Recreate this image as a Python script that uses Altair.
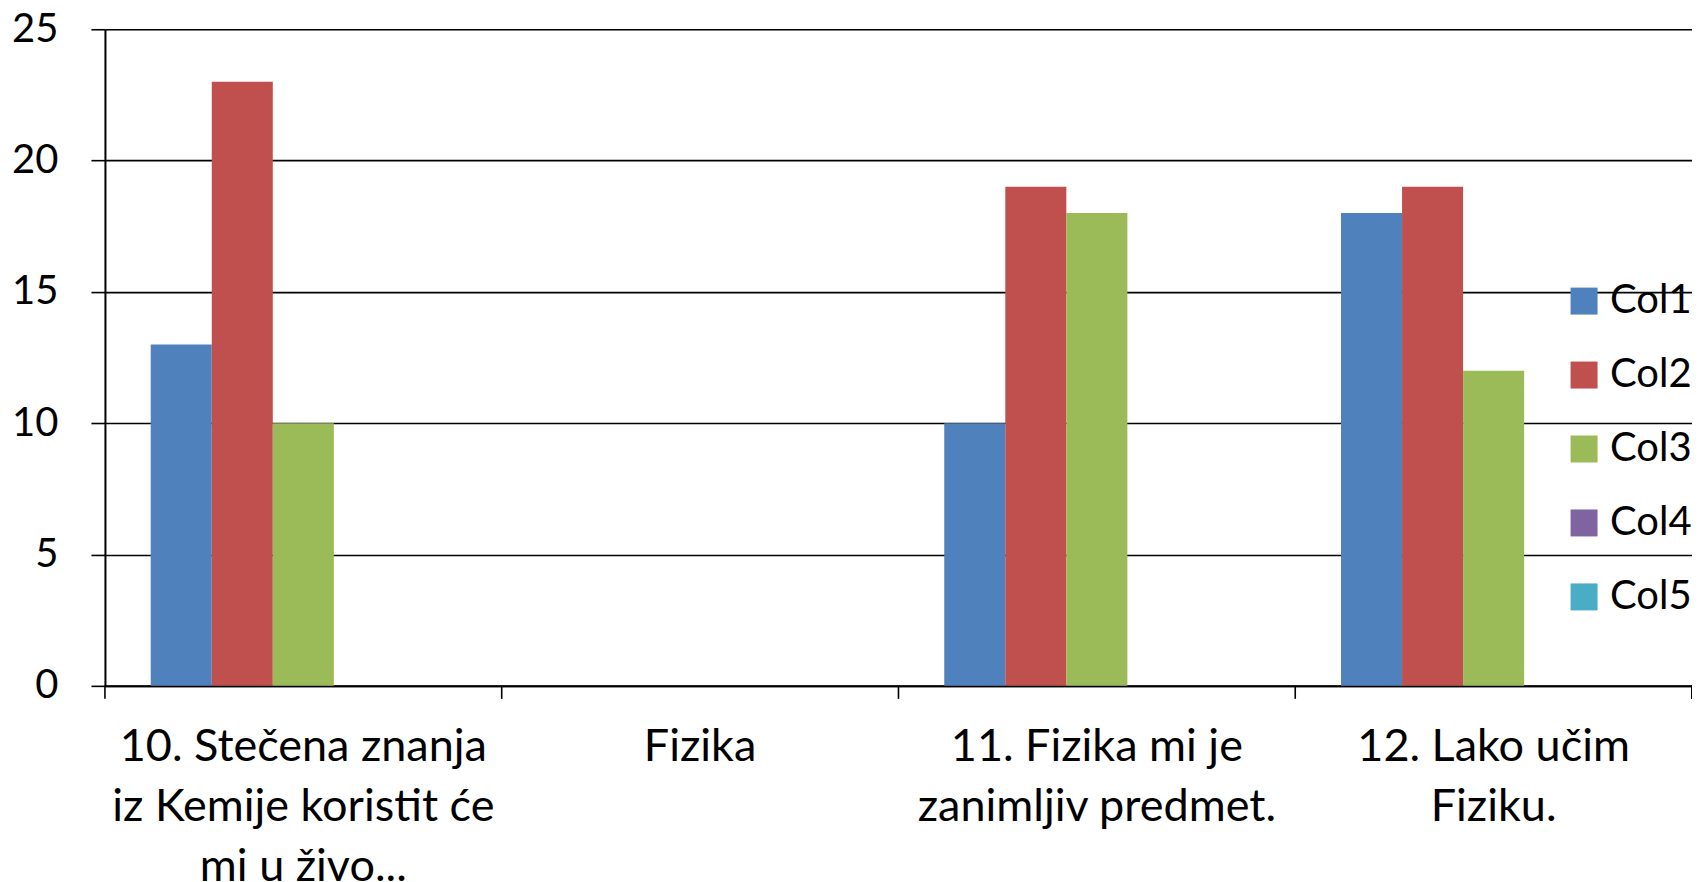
import altair as alt
import pandas as pd

categories = [
    "10. Stečena znanja\niz Kemije koristit će\nmi u živo...",
    "Fizika",
    "11. Fizika mi je\nzanimljiv predmet.",
    "12. Lako učim\nFiziku.",
]
series = ["Col1", "Col2", "Col3", "Col4", "Col5"]
col1 = [13, None, 10, 18]
col2 = [23, None, 19, 19]
col3 = [10, None, 18, 12]
col4 = [None, None, None, None]
col5 = [None, None, None, None]
colors = ["#4F81BD", "#C0504D", "#9BBB59", "#8064A2", "#4BACC6"]

rows = []
for s, vals in zip(series, [col1, col2, col3, col4, col5]):
    for c, v in zip(categories, vals):
        if v is not None:
            rows.append({"cat": c, "series": s, "value": v})
df = pd.DataFrame(rows)
ticks_df = pd.DataFrame({"cat": categories})

W, H = 1588, 657
FONT = "Lato"
XFS = 45
YFS = 40
LFS = 40

xscale = alt.Scale(domain=categories, paddingInner=0, paddingOuter=0)

bars = alt.Chart(df).mark_bar().encode(
    x=alt.X("cat:N", scale=xscale, sort=categories, title=None,
            axis=alt.Axis(labelAngle=0, ticks=False, domain=True, domainColor="black",
                          domainWidth=2, labelFont=FONT, labelFontSize=XFS,
                          labelColor="black", labelPadding=39, labelLineHeight=60,
                          labelExpr="split(datum.label, '\\n')", labelLimit=0)),
    xOffset=alt.XOffset("series:N", scale=alt.Scale(domain=series, paddingInner=0, paddingOuter=0.75)),
    y=alt.Y("value:Q", scale=alt.Scale(domain=[0, 25], nice=False), title=None,
            axis=alt.Axis(values=[0, 5, 10, 15, 20, 25], grid=True, gridColor="black",
                          gridWidth=1.6, domain=True, domainColor="black", domainWidth=2,
                          ticks=True, tickColor="black", tickSize=14, tickWidth=1.6,
                          labelFont=FONT, labelFontSize=YFS, labelColor="black",
                          labelPadding=33)),
    color=alt.Color("series:N", scale=alt.Scale(domain=series, range=colors),
                    legend=alt.Legend(title=None, orient="none", legendX=1460, legendY=252,
                                      symbolType="square", symbolSize=729,
                                      symbolStrokeWidth=0, labelFont=FONT,
                                      labelFontSize=LFS, labelColor="black",
                                      labelOffset=6, rowPadding=34, padding=0)),
)

xticks = alt.Chart(ticks_df).mark_rule(color="black", strokeWidth=1.6).encode(
    x=alt.X("cat:N", scale=xscale, sort=categories, bandPosition=0),
    y=alt.value(H),
    y2=alt.value(H + 13),
)
last_tick = alt.Chart(ticks_df).mark_rule(color="black", strokeWidth=1.6).encode(
    x=alt.value(W),
    y=alt.value(H),
    y2=alt.value(H + 13),
)

chart = alt.layer(bars, xticks, last_tick).properties(
    width=W, height=H,
    autosize=alt.AutoSizeParams(type="none"),
    padding={"left": 97, "top": 21, "right": 0, "bottom": 196},
).configure_view(stroke=None).configure(background="white")

chart.save("out.html", embed_options={"renderer": "svg", "actions": False})
